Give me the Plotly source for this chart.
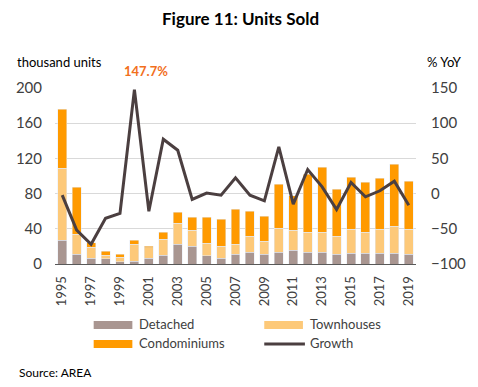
import plotly.graph_objects as go

years = list(range(1995, 2020))
detached = [27.2, 11.3, 6.8, 5.7, 2.3, 3.4, 6.8, 10.2, 22.7, 20.4, 9.1, 6.8, 11.3,
            13.6, 11.3, 13.6, 15.9, 13.6, 13.6, 11.3, 12.5, 12.5, 12.5, 12.5, 11.3]
townhouses = [81.7, 22.7, 12.5, 4.5, 5.6, 19.3, 11.4, 18.2, 23.8, 18.2, 14.7, 13.6, 11.4,
              18.2, 14.8, 27.2, 22.7, 22.7, 22.7, 20.5, 27.2, 23.8, 27.2, 30.6, 28.4]
condominiums = [66.9, 53.4, 4.9, 4.5, 3.4, 4.5, 2.2, 7.9, 12.5, 14.7, 29.5, 30.6, 39.7,
                28.3, 28.4, 50.0, 38.9, 65.7, 73.7, 53.2, 59.0, 56.7, 57.9, 70.3, 54.5]
growth = [-2.2, -51.8, -72.0, -35.0, -28.0, 147.7, -25.0, 77.2, 61.6, -8.3, 0.7, -2.2, 22.4,
          -2.2, -10.2, 66.4, -15.0, 34.2, 9.6, -22.5, 15.8, -4.5, 4.0, 17.7, -16.4]
xtick_years = years[::2]
left_ticks = [0, 40, 80, 120, 160, 200]
right_ticks = [-100, -50, 0, 50, 100, 150]

names = ["Detached", "Townhouses", "Condominiums", "Growth"]
C_DET = "#a99691"
C_TOWN = "#fdc979"
C_CONDO = "#ff9a00"
C_LINE = "#4b3f40"
FONT = "Lato"

W, H = 478, 387
L, R, T, B = 55, 59, 88, 123

def px_x(px):
    return (px - L) / (W - L - R)

def px_y(py):
    return (H - B - py) / (H - T - B)

fig = go.Figure()
fig.add_trace(go.Bar(x=years, y=detached, name=names[0], marker_color=C_DET))
fig.add_trace(go.Bar(x=years, y=townhouses, name=names[1], marker_color=C_TOWN))
fig.add_trace(go.Bar(x=years, y=condominiums, name=names[2], marker_color=C_CONDO))
fig.add_trace(go.Scatter(x=years, y=growth, name=names[3], yaxis="y2", mode="lines",
                         line=dict(color=C_LINE, width=3)))

annotations = [
    dict(text="<b>Figure 11: Units Sold</b>", x=px_x(242.5), y=px_y(18), xref="paper", yref="paper",
         showarrow=False, font=dict(family=FONT, size=17, color="#000000"), xanchor="center", yanchor="middle"),
    dict(text="thousand units", x=px_x(15), y=px_y(62), xref="paper", yref="paper",
         showarrow=False, font=dict(family=FONT, size=13, color="#000000"), xanchor="left", yanchor="middle"),
    dict(text="% YoY", x=px_x(428), y=px_y(62), xref="paper", yref="paper",
         showarrow=False, font=dict(family=FONT, size=13, color="#000000"), xanchor="left", yanchor="middle"),
    dict(text="<b>%.1f%%</b>" % max(growth), x=years[growth.index(max(growth))], y=max(growth),
         xref="x", yref="y2", xshift=12, yshift=19,
         showarrow=False, font=dict(family=FONT, size=13, color="#f26f1c"), xanchor="center", yanchor="middle"),
    dict(text="Source: AREA", x=px_x(17), y=px_y(372), xref="paper", yref="paper",
         showarrow=False, font=dict(family=FONT, size=12, color="#000000"), xanchor="left", yanchor="middle"),
]

# legend (drawn manually to get wide swatches)
legend_items = [
    (names[0], C_DET, 94, 325, "bar"),
    (names[1], C_TOWN, 266, 325, "bar"),
    (names[2], C_CONDO, 94, 344, "bar"),
    (names[3], C_LINE, 266, 344, "line"),
]
shapes = []
for name, col, lx, ly, kind in legend_items:
    if kind == "bar":
        shapes.append(dict(type="rect", xref="paper", yref="paper",
                           x0=px_x(lx), x1=px_x(lx + 39), y0=px_y(ly - 4), y1=px_y(ly + 4),
                           fillcolor=col, line=dict(width=0)))
    else:
        shapes.append(dict(type="line", xref="paper", yref="paper",
                           x0=px_x(lx), x1=px_x(lx + 41), y0=px_y(ly), y1=px_y(ly),
                           line=dict(color=col, width=3)))
    annotations.append(dict(text=name, x=px_x(lx + 44), y=px_y(ly - 1), xref="paper", yref="paper",
                            showarrow=False, font=dict(family=FONT, size=13, color="#404040"),
                            xanchor="left", yanchor="middle"))

fig.update_layout(
    width=W, height=H,
    margin=dict(l=L, r=R, t=T, b=B),
    barmode="stack", bargap=0.38,
    plot_bgcolor="white", paper_bgcolor="white",
    showlegend=False,
    font=dict(family=FONT, color="#404040"),
    xaxis=dict(range=[1994.5, 2019.5], tickmode="array", tickvals=xtick_years,
               ticktext=[str(y) for y in xtick_years], tickangle=-90,
               tickfont=dict(size=13, color="#404040"), showgrid=False,
               showline=True, linecolor="#595959", linewidth=1, ticks="", ticklabelstandoff=6,
               zeroline=False),
    yaxis=dict(range=[0, 200], tickmode="array", tickvals=left_ticks,
               tickfont=dict(size=15, color="#404040"), showgrid=True, gridcolor="#d9d9d9",
               gridwidth=1, zeroline=False, ticks="", ticklabelstandoff=12),
    yaxis2=dict(range=[-100, 150], tickmode="array", tickvals=right_ticks, overlaying="y",
                side="right", tickfont=dict(size=15, color="#404040"), showgrid=False,
                zeroline=False, ticks="", ticklabelstandoff=14),
    annotations=annotations,
    shapes=shapes,
)

fig.write_html("out.html", config={"displayModeBar": False},
               post_script="document.body.style.margin='0';document.body.style.padding='0';")
